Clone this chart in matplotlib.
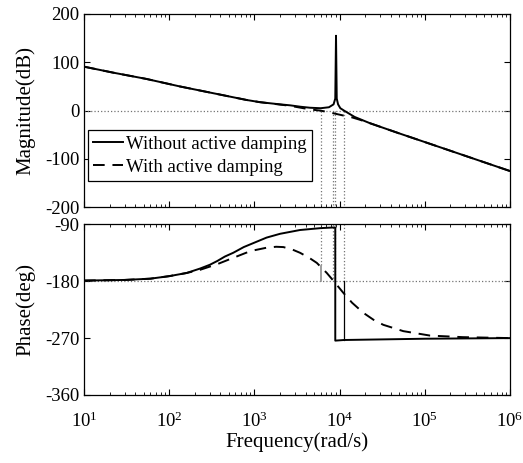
import numpy as np
import matplotlib.pyplot as plt

plt.rcParams['font.family'] = ['Liberation Serif', 'DejaVu Serif']
plt.rcParams['mathtext.fontset'] = 'custom'
plt.rcParams['mathtext.rm'] = 'Liberation Serif'
plt.rcParams['axes.unicode_minus'] = False

# Magnitude, without active damping (rad/s, dB)
w_mag_no = [10, 22, 54, 134, 330, 813, 1164, 2000, 2620, 3500, 4500, 6000, 7500, 8500,
            8900, 9080, 9260, 9600, 10200, 11300, 15000, 22700, 50000, 1e5, 1e6]
mag_no = [91, 78.6, 65.6, 50, 36, 22, 17.5, 13, 11, 8, 6, 5, 7, 13,
          25, 155, 25, 13, 5, 0, -13, -26, -47, -65, -125]

# Magnitude, with active damping
w_mag_ad = [10, 22, 54, 134, 330, 813, 1164, 2000, 2620, 3500, 4500, 6000, 8000,
            11000, 14000, 17400, 22700, 50000, 1e5, 1e6]
mag_ad = [91, 78.6, 65.6, 50, 36, 22, 17.5, 12.5, 10, 6, 2.5, 0, -4.5,
          -10, -14, -19, -26, -47, -65, -125]

# Phase, without active damping (deg)
w_ph_no = [10, 30, 60, 100, 160, 230, 300, 367, 450, 565, 750, 1000, 1390, 2000,
           3430, 6000, 8430, 8900, 8900, 11300, 1e5, 1e6]
ph_no = [-179, -178, -176, -172, -167, -160, -154, -148, -141, -135, -126, -119, -111, -105,
         -99, -96, -95, -95, -274, -273, -271, -270]

# Phase, with active damping
w_ph_ad = [10, 30, 60, 100, 160, 230, 367, 565, 800, 1000, 1390, 1800, 2190, 2800,
           3430, 4400, 5400, 7080, 8430, 11000, 14000, 19000, 25000, 32600, 56000,
           115000, 280000, 1e6]
ph_ad = [-179, -178, -176, -172, -167, -162, -153, -143, -135, -131, -127, -125.5, -126, -130,
         -135, -143, -151, -167, -179, -198, -214, -230, -241, -249, -259,
         -266, -268.5, -270]

# Margin markers
margin_w = [6000, 8430, 8900, 11300]
pm_w_ad, pm_ad = 6000, -156
pm_w_no, pm_no = 11300, -273

fig = plt.figure(figsize=(5.23, 4.63), dpi=100)
ax1 = fig.add_axes([0.1606, 0.5523, 0.8145, 0.4175])
ax2 = fig.add_axes([0.1606, 0.1469, 0.8145, 0.3686])

grid_kw = dict(color='0.45', ls=':', lw=0.9)

# Magnitude plot
ax1.axhline(0, **grid_kw)
for w in margin_w:
    ax1.plot([w, w], [0, -200], **grid_kw)
ax1.semilogx(w_mag_no, mag_no, 'k-', lw=1.4, label='Without active damping')
ax1.semilogx(w_mag_ad, mag_ad, 'k--', lw=1.4, dashes=(6, 4), label='With active damping')
ax1.set_ylim(-200, 200)
ax1.set_yticks([200, 100, 0, -100, -200])
ax1.set_ylabel('Magnitude(dB)', fontsize=15)
leg = ax1.legend(loc='lower left', bbox_to_anchor=(0.0, 0.115), fontsize=13.5,
                 fancybox=False, edgecolor='k', framealpha=1, handlelength=1.6,
                 handletextpad=0.15, borderpad=0.3, labelspacing=0.3, borderaxespad=0.2)
leg.get_frame().set_linewidth(0.9)

# Phase plot
ax2.axhline(-180, **grid_kw)
for w in margin_w[1:]:
    ax2.plot([w, w], [-90, -180], **grid_kw)
ax2.plot([pm_w_ad, pm_w_ad], [-90, pm_ad], **grid_kw)
ax2.plot([pm_w_ad, pm_w_ad], [-180, pm_ad], color='0.55', lw=1.2)
ax2.plot([pm_w_no, pm_w_no], [-180, pm_no], 'k-', lw=0.9)
ax2.semilogx(w_ph_no, ph_no, 'k-', lw=1.4)
ax2.semilogx(w_ph_ad, ph_ad, 'k--', lw=1.4, dashes=(6, 4))
ax2.set_ylim(-360, -90)
ax2.set_yticks([-90, -180, -270, -360])
ax2.set_ylabel('Phase(deg)', fontsize=15)
ax2.set_xlabel('Frequency(rad/s)', fontsize=15)

for ax in (ax1, ax2):
    ax.set_xscale('log')
    ax.set_xlim(10, 1e6)
    ax.tick_params(which='both', direction='in', top=True, right=True, labelsize=13.5)
    ax.tick_params(which='major', length=4)
    ax.tick_params(which='minor', length=2)
    ax.yaxis.set_label_coords(-0.113, 0.5)
    for s in ax.spines.values():
        s.set_linewidth(0.9)

ax1.tick_params(axis='x', which='both', labelbottom=False)
ax2.tick_params(axis='x', which='major', pad=12)
ax2.xaxis.labelpad = 1
fig.savefig('out.png', dpi=100)
